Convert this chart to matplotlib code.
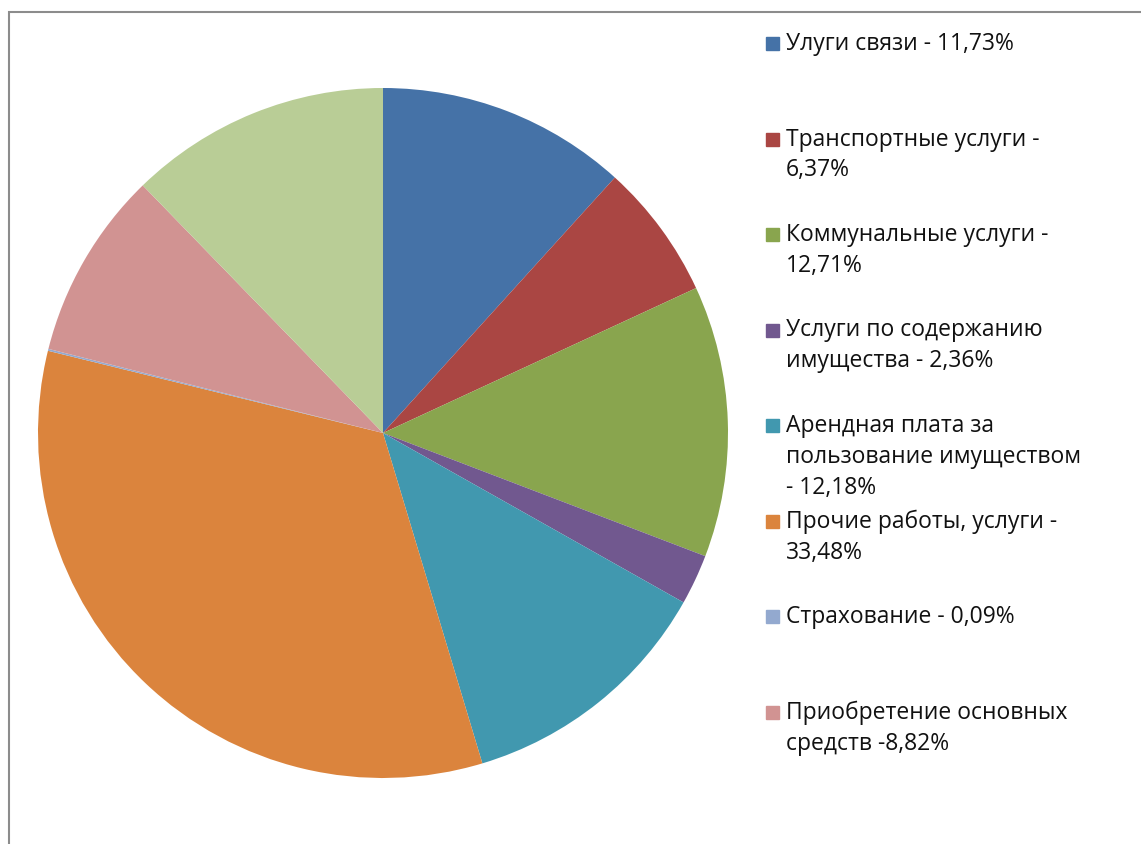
import matplotlib.pyplot as plt
from matplotlib.patches import Rectangle

labels = ['Улуги связи - 11,73%',
          'Транспортные услуги -\n6,37%',
          'Коммунальные услуги -\n12,71%',
          'Услуги по содержанию\nимущества - 2,36%',
          'Арендная плата за\nпользование имуществом\n- 12,18%',
          'Прочие работы, услуги -\n33,48%',
          'Страхование - 0,09%',
          'Приобретение основных\nсредств -8,82%']
values = [11.73, 6.37, 12.71, 2.36, 12.18, 33.48, 0.09, 8.82, 12.26]
colors = ['#4572A7', '#AA4643', '#89A54E', '#71588F', '#4198AF',
          '#DB843D', '#93A9CF', '#D19392', '#B9CD96']

W, H = 1141, 845
fig = plt.figure(figsize=(W / 100, H / 100), dpi=100)
plt.rcParams['font.family'] = ['Open Sans', 'DejaVu Sans']

# pie: centre (383, 434) px, radius 345 px
cx, cy, r = 383, 434, 345
ax = fig.add_axes([(cx - r) / W, (H - cy - r) / H, 2 * r / W, 2 * r / H])
ax.pie(values, colors=colors, startangle=90, counterclock=False,
       wedgeprops=dict(linewidth=0))
ax.set_xlim(-1, 1)
ax.set_ylim(-1, 1)
ax.set_aspect('equal')
ax.axis('off')

# chart frame (only top and left visible)
fig.add_artist(Rectangle((9 / W, -0.1), 1.2, (H - 13) / H + 0.1,
                         transform=fig.transFigure, fill=False,
                         edgecolor='#8c8c8c', linewidth=1.5))

# legend
y0, step = 44, 95.5
for i, lab in enumerate(labels):
    y = y0 + i * step
    fig.add_artist(Rectangle((766 / W, (H - y - 7) / H), 13 / W, 13 / H,
                             transform=fig.transFigure, color=colors[i]))
    fig.text(786 / W, (H - y + 12) / H, lab, fontsize=16.5, color='#111111',
             va='top', ha='left', linespacing=1.38)

fig.savefig('out.png', dpi=100)
